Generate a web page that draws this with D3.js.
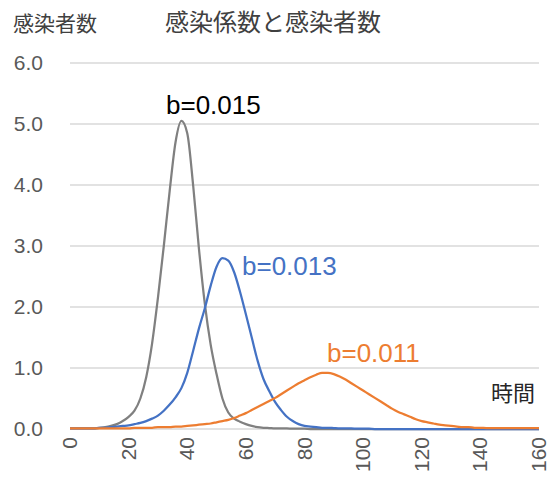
<!DOCTYPE html>
<html>
<head>
<meta charset="utf-8">
<script src="https://cdn.jsdelivr.net/npm/d3@7"></script>
<style>
  body { margin: 0; background: #fff; }
  svg { display: block; }
  text { font-family: "Liberation Sans", Arial, sans-serif; }
  .jp { font-family: "Noto Sans CJK JP", sans-serif; }
</style>
</head>
<body>
<svg width="551" height="481"></svg>
<script>
// time steps (every 2)
var times = [0,2,4,6,8,10,12,14,16,18,20,22,24,26,28,30,32,34,36,38,
  40,42,44,46,48,50,52,54,56,58,60,62,64,66,68,70,72,74,76,78,
  80,82,84,86,88,90,92,94,96,98,100,102,104,106,108,110,112,114,116,118,
  120,122,124,126,128,130,132,134,136,138,140,142,144,146,148,150,152,154,156,158,160];

// infected, b=0.015
var infected015 = [0.01,0.01,0.01,0.01,0.01,0.02,0.03,0.05,0.08,0.13,
  0.2,0.3,0.5,0.85,1.4,2.15,3.0,3.9,4.7,5.05,
  4.85,4.0,2.95,2.05,1.38,0.9,0.5,0.27,0.17,0.12,
  0.08,0.05,0.03,0.02,0.015,0.01,0.01,0.01,0.005,0.005,
  0.005,0,0,0,0,0,0,0,0,0,
  0,0,0,0,0,0,0,0,0,0,
  0,0,0,0,0,0,0,0,0,0,
  0,0,0,0,0,0,0,0,0,0,0];

// infected, b=0.013
var infected013 = [0.01,0.01,0.01,0.01,0.01,0.02,0.02,0.03,0.04,0.05,
  0.06,0.08,0.1,0.13,0.17,0.22,0.3,0.4,0.52,0.67,
  0.92,1.28,1.65,1.98,2.35,2.66,2.8,2.76,2.57,2.25,
  1.88,1.5,1.12,0.82,0.62,0.44,0.31,0.2,0.13,0.08,
  0.05,0.04,0.03,0.02,0.02,0.015,0.01,0.01,0.01,0.005,
  0.005,0.005,0,0,0,0,0,0,0,0,
  0,0,0,0,0,0,0,0,0,0,
  0,0,0,0,0,0,0,0,0,0,0];

// infected, b=0.011
var infected011 = [0.01,0.01,0.01,0.01,0.01,0.01,0.01,0.01,0.01,0.01,
  0.01,0.02,0.02,0.02,0.02,0.03,0.03,0.03,0.04,0.04,
  0.05,0.06,0.07,0.08,0.09,0.11,0.13,0.15,0.18,0.22,
  0.26,0.31,0.36,0.41,0.46,0.51,0.57,0.63,0.69,0.75,
  0.8,0.85,0.89,0.92,0.92,0.9,0.86,0.81,0.75,0.69,
  0.63,0.57,0.51,0.45,0.39,0.33,0.28,0.24,0.2,0.16,
  0.13,0.11,0.09,0.07,0.06,0.05,0.04,0.03,0.03,0.02,
  0.02,0.015,0.015,0.015,0.015,0.015,0.015,0.015,0.015,0.015,0.015];

var xTicks = [0,20,40,60,80,100,120,140,160];
var yTicks = [0,1,2,3,4,5,6];

var series = [
  {name: "b=0.015", values: infected015, color: "#808080"},
  {name: "b=0.013", values: infected013, color: "#4472C4"},
  {name: "b=0.011", values: infected011, color: "#ED7D31"}
];

var svg = d3.select("svg");

var x = d3.scaleLinear().domain([0, 160]).range([70, 539]);
var y = d3.scaleLinear().domain([0, 6]).range([429, 63]);

//gridlines
svg.append("g")
  .selectAll("line")
  .data(yTicks)
  .enter()
  .append("line")
  .attr("x1", x(0))
  .attr("x2", x(160))
  .attr("y1", function(d){ return y(d); })
  .attr("y2", function(d){ return y(d); })
  .attr("stroke", "#d9d9d9")
  .attr("stroke-width", 1.5);

//y tick labels
svg.append("g")
  .selectAll("text")
  .data(yTicks)
  .enter()
  .append("text")
  .attr("x", 43)
  .attr("y", function(d){ return y(d) + 7; })
  .attr("text-anchor", "end")
  .attr("font-size", "21px")
  .attr("fill", "#595959")
  .text(function(d){ return d3.format(".1f")(d); });

//x tick labels, rotated
svg.append("g")
  .selectAll("text")
  .data(xTicks)
  .enter()
  .append("text")
  .attr("transform", function(d){ return "translate(" + (x(d) + 7) + ",437) rotate(-90)"; })
  .attr("text-anchor", "end")
  .attr("font-size", "21px")
  .attr("fill", "#595959")
  .text(function(d){ return d; });

//lines
var line = d3.line()
  .x(function(d, i){ return x(times[i]); })
  .y(function(d){ return y(d); })
  .curve(d3.curveMonotoneX);

svg.append("g")
  .selectAll("path")
  .data(series)
  .enter()
  .append("path")
  .attr("d", function(d){ return line(d.values); })
  .attr("fill", "none")
  .attr("stroke", function(d){ return d.color; })
  .attr("stroke-width", 2.25)
  .attr("stroke-linejoin", "round");

//titles
svg.append("text").attr("class", "jp")
  .attr("x", 13).attr("y", 31)
  .attr("font-size", "21px").attr("fill", "#404040")
  .text("感染者数");

svg.append("text").attr("class", "jp")
  .attr("x", 165).attr("y", 31)
  .attr("font-size", "24px").attr("fill", "#404040")
  .text("感染係数と感染者数");

svg.append("text").attr("class", "jp")
  .attr("x", 491).attr("y", 401)
  .attr("font-size", "22px").attr("fill", "#262626")
  .text("時間");

//series labels
var labelPos = [[166, 114, "#000000"], [242, 275, "#4472C4"], [327, 362, "#ED7D31"]];
svg.append("g")
  .selectAll("text")
  .data(series)
  .enter()
  .append("text")
  .attr("x", function(d, i){ return labelPos[i][0]; })
  .attr("y", function(d, i){ return labelPos[i][1]; })
  .attr("font-size", "26px")
  .attr("fill", function(d, i){ return labelPos[i][2]; })
  .text(function(d){ return d.name; });
</script>
</body>
</html>
